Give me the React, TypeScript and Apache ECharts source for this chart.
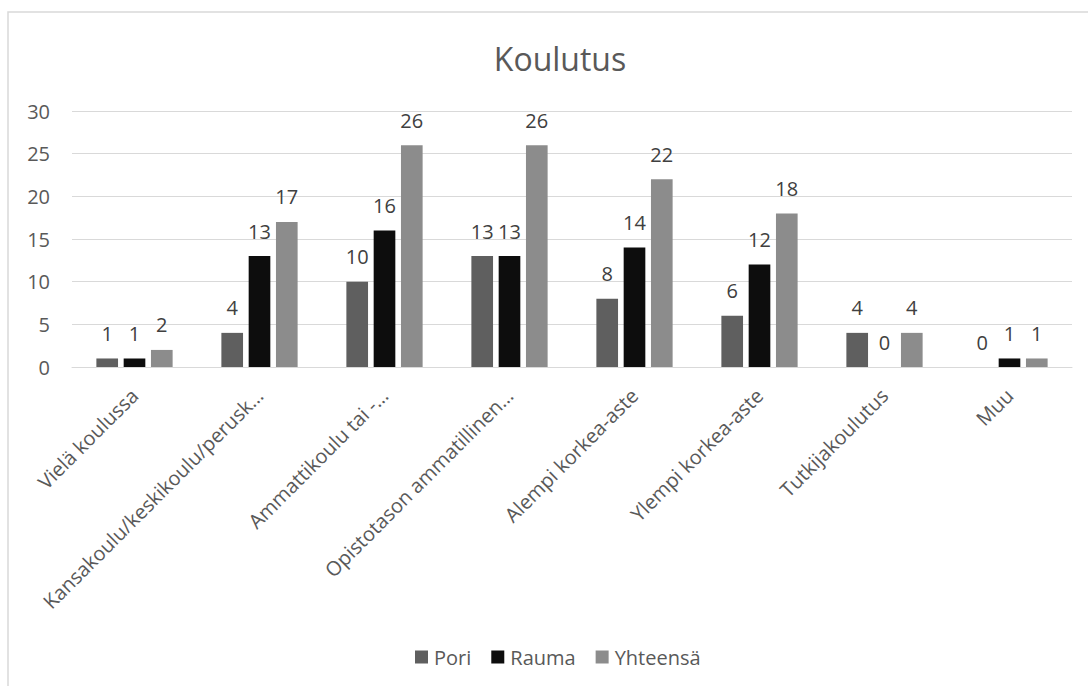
import React, { useEffect, useRef } from "react";
import * as echarts from "echarts";

const categories = [
  "Vielä koulussa",
  "Kansakoulu/keskikoulu/perusk…",
  "Ammattikoulu tai -…",
  "Opistotason ammatillinen…",
  "Alempi korkea-aste",
  "Ylempi korkea-aste",
  "Tutkijakoulutus",
  "Muu",
];
const pori = [1, 4, 10, 13, 8, 6, 4, 0];
const rauma = [1, 13, 16, 13, 14, 12, 0, 1];
const yhteensa = [2, 17, 26, 26, 22, 18, 4, 1];
const seriesNames = ["Pori", "Rauma", "Yhteensä"];
const seriesColors = ["#5f5f5f", "#0d0d0d", "#8c8c8c"];
const yTicks = { min: 0, max: 30, interval: 5 };

const FONT = "'Open Sans', sans-serif";

export default function App() {
  const ref = useRef<HTMLDivElement>(null);
  useEffect(() => {
    if (!ref.current) return;
    const chart = echarts.init(ref.current, undefined, { renderer: "svg" });
    const data = [pori, rauma, yhteensa];
    chart.setOption({
      animation: false,
      backgroundColor: "#ffffff",
      title: {
        text: "Koulutus",
        left: 555,
        textAlign: "center",
        top: 37,
        textStyle: { fontFamily: FONT, fontSize: 32, fontWeight: "normal", color: "#595959" },
      },
      graphic: [
        {
          type: "rect",
          shape: { x: 8, y: 12, width: 1100, height: 700 },
          style: { fill: "none", stroke: "#d9d9d9", lineWidth: 1.5 },
          silent: true,
          z: -1,
        },
      ],
      legend: {
        left: 410,
        top: 642,
        itemWidth: 13,
        itemHeight: 13,
        itemGap: 20,
        icon: "rect",
        textStyle: { fontFamily: FONT, fontSize: 20, color: "#595959", padding: [0, 0, 0, 1] },
        data: seriesNames,
      },
      grid: { left: 72, right: 16, top: 111, bottom: 319, containLabel: false },
      xAxis: {
        type: "category",
        data: categories,
        axisTick: { show: false },
        axisLine: { lineStyle: { color: "#d9d9d9", width: 1 } },
        axisLabel: {
          rotate: 45,
          interval: 0,
          margin: 25,
          fontFamily: FONT,
          fontSize: 20,
          color: "#595959",
        },
      },
      yAxis: {
        type: "value",
        min: yTicks.min,
        max: yTicks.max,
        interval: yTicks.interval,
        axisLine: { show: false },
        axisTick: { show: false },
        splitLine: { lineStyle: { color: "#d9d9d9", width: 1 } },
        axisLabel: { margin: 22, fontFamily: FONT, fontSize: 20, color: "#595959" },
      },
      series: seriesNames.map((name, i) => ({
        name,
        type: "bar",
        data: data[i],
        barGap: "26%",
        barCategoryGap: "39%",
        itemStyle: { color: seriesColors[i] },
        label: {
          show: true,
          position: "top",
          distance: 15,
          fontFamily: FONT,
          fontSize: 20,
          color: "#404040",
        },
      })),
    });
    return () => chart.dispose();
  }, []);
  return <div ref={ref} style={{ width: 1088, height: 686, position: "absolute", left: 0, top: 0 }} />;
}
